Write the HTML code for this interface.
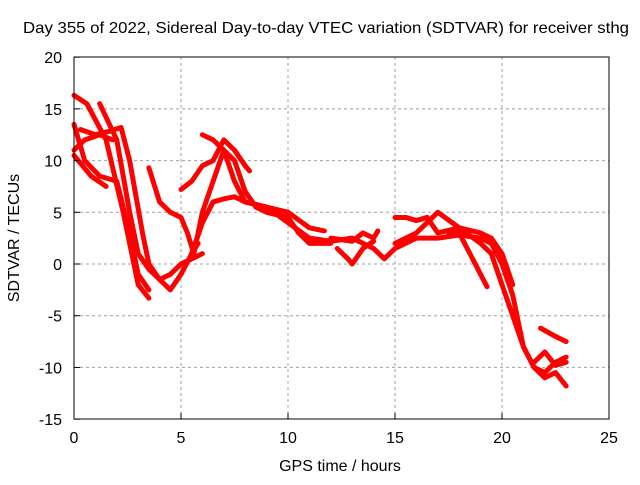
<!DOCTYPE html>
<html><head><meta charset="utf-8"><style>
body{margin:0;background:#fff;}
svg text{font-family:"Liberation Sans",sans-serif;font-size:16px;fill:#000;}
</style></head><body>
<svg width="640" height="480">
<rect x="0" y="0" width="640" height="480" fill="#fff"/>
<g id="grid"></g>
<g id="series"></g>
<rect x="74" y="57" width="535" height="362" fill="none" stroke="#000" stroke-width="1"/>
<g id="ticks"></g>
<text x="326" y="33" text-anchor="middle" textLength="606" lengthAdjust="spacingAndGlyphs">Day 355 of 2022, Sidereal Day-to-day VTEC variation (SDTVAR) for receiver sthg</text>
<text x="340" y="471" text-anchor="middle">GPS time / hours</text>
<text x="19" y="238" text-anchor="middle" transform="rotate(-90 19 238)">SDTVAR / TECUs</text>
</svg>
<script>
const xTicks=[0,5,10,15,20,25];
const yTicks=[-15,-10,-5,0,5,10,15,20];
const sA=[[0,16.3],[0.6,15.5],[1.5,12],[2.3,5],[3,-2],[3.5,-3.3]];
const sB=[[0.3,13],[1,12.5],[1.6,12.8],[2.2,13.2],[2.6,10],[3.2,3],[3.5,0],[4,-1.5],[4.5,-1],[5,0],[5.5,0.5],[6,1]];
const sC=[[1.2,15.5],[2,12],[2.6,5],[3,1],[3.5,-0.5],[4,-1.5],[4.5,-2.5],[5,-1],[5.5,1],[5.8,2]];
const sD=[[0,10.5],[0.8,8.5],[1.5,7.5]];
const sE=[[0,13.5],[0.5,10],[1.2,8.5],[2,8],[2.6,3],[3,-1],[3.5,-2.5]];
const sF=[[0,11],[0.5,12],[1.2,12.5],[1.8,12]];
const sG=[[3.5,9.3],[4,6],[4.5,5],[5,4.5],[5.3,3],[5.6,1],[5.8,3],[6,5],[6.5,8],[7,11],[7.5,10],[8,7],[8.5,5.5],[9,5],[10,4.5],[10.5,3],[11,2],[12,2]];
const sH=[[5,7.2],[5.5,8],[6,9.5],[6.5,10],[7,12],[7.5,11],[8,9.5],[8.2,9]];
const sI=[[6,12.5],[6.5,12],[7,11],[7.5,8],[8,6],[9,5.5],[10,5],[11,3.5],[11.7,3.2]];
const sJ=[[5.5,1],[6,4],[6.5,6],[7,6.3],[7.5,6.5],[8,6],[9,5.5],[10,4],[11,2.5],[12,2.2],[13,2.5],[14,1.5],[14.5,0.5],[15,1.5],[16,2.5],[17,2.5],[18,2.8],[19,2.5],[19.5,2],[20,0],[20.5,-3],[21,-8],[21.5,-10],[22,-10.5],[22.5,-9.5],[23,-9]];
const sK=[[12,2.5],[13,2.2],[13.5,3],[14,2.5],[14.2,3.2]];
const sK2=[[12.3,1.5],[12.8,0.5],[13,0],[13.5,1.5],[14,2.2]];
const sL=[[15,4.5],[15.5,4.5],[16,4.2],[16.5,4.5],[17,3],[18,3.5],[19,2],[19.5,1],[20,-2],[20.5,-5],[21,-8],[21.5,-10],[22,-11],[22.5,-10.5],[23,-11.8]];
const sM=[[15,2],[16,3],[17,5],[18,3.5],[19,3],[19.5,2.5],[20,1],[20.5,-2]];
const sN=[[17.5,3],[18,3],[18.5,1],[19,-1],[19.3,-2.2]];
const sO=[[21.8,-6.2],[22.5,-7],[23,-7.5]];
const sO2=[[21.5,-9.5],[22,-8.5],[22.5,-9.8],[23,-9.5]];
const allSeries=[sA,sB,sC,sD,sE,sF,sG,sH,sI,sJ,sK,sK2,sL,sM,sN,sO,sO2];
const NS='http://www.w3.org/2000/svg';
const X=v=>74+v*(535/25), Y=v=>264-v*(362/35);
const grid=document.getElementById('grid'),ticks=document.getElementById('ticks'),ser=document.getElementById('series');
function mk(t,a,p){const e=document.createElementNS(NS,t);for(const k in a)e.setAttribute(k,a[k]);p.appendChild(e);return e;}
xTicks.forEach(t=>{
  if(t>0&&t<25){const g=mk('line',{x1:X(t),x2:X(t),y1:57,y2:419,stroke:'#a0a0a0','stroke-dasharray':'3,3'},grid);
  
  }
  const l=mk('line',{x1:X(t),x2:X(t),y1:419,y2:413,stroke:'#000'},ticks);
  
  
  const tx=mk('text',{x:X(t),y:443,'text-anchor':'middle'},ticks);tx.textContent=t;
  
  
});
yTicks.forEach(t=>{
  if(t>-15&&t<20){const g=mk('line',{x1:74,x2:609,y1:Y(t),y2:Y(t),stroke:'#a0a0a0','stroke-dasharray':'3,3'},grid);
  
  }
  const l=mk('line',{x1:74,x2:80,y1:Y(t),y2:Y(t),stroke:'#000'},ticks);
  
  
  const tx=mk('text',{x:62,y:Y(t)+6,'text-anchor':'end'},ticks);tx.textContent=t;
  
  
});
allSeries.forEach((s,i)=>{
  const p=mk('polyline',{points:s.map(d=>X(d[0])+','+Y(d[1])).join(' '),fill:'none',stroke:'#ff0000','stroke-width':5,'stroke-linejoin':'round','stroke-linecap':'round'},ser);
  
  
});
</script>
</body></html>
